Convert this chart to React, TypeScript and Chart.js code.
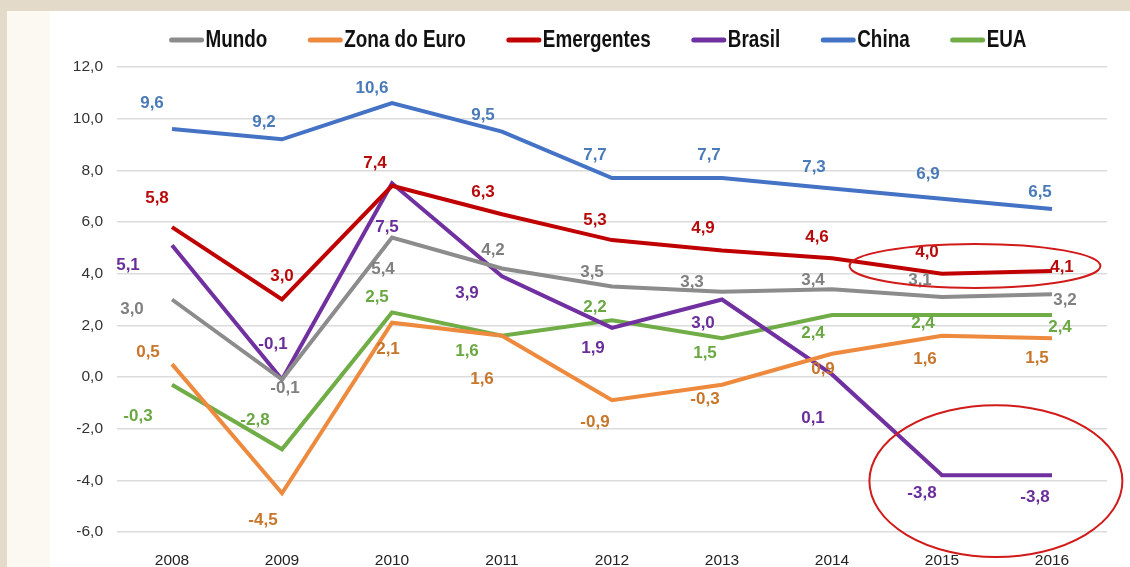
import React, { useEffect, useRef } from "react";
import { Chart, registerables } from "chart.js";

Chart.register(...registerables);

const YEARS = ["2008", "2009", "2010", "2011", "2012", "2013", "2014", "2015", "2016"];
const MUNDO = [3.0, -0.1, 5.4, 4.2, 3.5, 3.3, 3.4, 3.1, 3.2];
const ZONA_EURO = [0.5, -4.5, 2.1, 1.6, -0.9, -0.3, 0.9, 1.6, 1.5];
const EMERGENTES = [5.8, 3.0, 7.4, 6.3, 5.3, 4.9, 4.6, 4.0, 4.1];
const BRASIL = [5.1, -0.1, 7.5, 3.9, 1.9, 3.0, 0.1, -3.8, -3.8];
const CHINA = [9.6, 9.2, 10.6, 9.5, 7.7, 7.7, 7.3, 6.9, 6.5];
const EUA = [-0.3, -2.8, 2.5, 1.6, 2.2, 1.5, 2.4, 2.4, 2.4];
const Y_MIN = -6;
const Y_MAX = 12;
const Y_STEP = 2;

// label placement (dx, dy in px relative to the point) – styling only
const LABEL_OFFSETS: number[][][] = [
  [[-40, 10], [3, 9], [-9, 32], [-9, -18], [-20, -14], [-30, -9], [-19, -9], [-22, -17], [13, 6]],
  [[-24, -12], [-19, 27], [-4, 27], [-20, 44], [-17, 22], [-17, 15], [-9, 16], [-17, 24], [-15, 20]],
  [[-15, -29], [0, -23], [-17, -23], [-19, -22], [-17, -20], [-19, -22], [-15, -21], [-15, -21], [10, -4]],
  [[-44, 20], [-9, -35], [-5, 44], [-35, 17], [-19, 20], [-19, 24], [-19, 44], [-20, 18], [-17, 22]],
  [[-20, -26], [-18, -17], [-20, -15], [-19, -16], [-17, -23], [-13, -23], [-18, -21], [-14, -24], [-12, -17]],
  [[-34, 32], [-27, -29], [-15, -15], [-35, 16], [-17, -13], [-17, 15], [-19, 18], [-19, 8], [8, 12]],
];

const SERIES = [
  { label: "Mundo", data: MUNDO, color: "#8C8C8C", labelColor: "#808080" },
  { label: "Zona do Euro", data: ZONA_EURO, color: "#EE8A3E", labelColor: "#C7762C" },
  { label: "Emergentes", data: EMERGENTES, color: "#C00000", labelColor: "#B80A0A" },
  { label: "Brasil", data: BRASIL, color: "#7030A0", labelColor: "#6A2E9A" },
  { label: "China", data: CHINA, color: "#4472C4", labelColor: "#4A7BB8" },
  { label: "EUA", data: EUA, color: "#70AD47", labelColor: "#6AA843" },
];

// ellipse annotations in data space: [category index center, value center, rx (categories), ry (values)]
const ELLIPSES = [
  [7.3, 4.3, 1.14, 0.85],
  [7.49, -4.03, 1.15, 2.94],
];

const SANS = "'Liberation Sans', Arial, sans-serif";

const fmt = (v: number) => v.toFixed(1).replace(".", ",");

const bgPlugin = {
  id: "bg",
  beforeDraw(chart: any) {
    const { ctx, width, height } = chart;
    ctx.save();
    ctx.fillStyle = "#E4DACA";
    ctx.fillRect(0, 0, width, height);
    ctx.fillStyle = "#FFFFFF";
    ctx.fillRect(7, 11, width - 7, height - 11);
    ctx.fillStyle = "#FCF9F2";
    ctx.fillRect(7, 11, 43, height - 11);
    ctx.restore();
  },
};

const labelsPlugin = {
  id: "valueLabels",
  afterDatasetsDraw(chart: any) {
    const { ctx } = chart;
    ctx.save();
    ctx.font = `bold 17px ${SANS}`;
    ctx.textAlign = "center";
    ctx.textBaseline = "middle";
    chart.data.datasets.forEach((ds: any, di: number) => {
      const meta = chart.getDatasetMeta(di);
      ctx.fillStyle = ds.labelColor;
      meta.data.forEach((pt: any, i: number) => {
        const off = LABEL_OFFSETS[di][i];
        ctx.fillText(fmt(ds.data[i]), pt.x + off[0], pt.y + off[1]);
      });
    });
    ctx.restore();
  },
};

const ellipsePlugin = {
  id: "ellipses",
  afterDraw(chart: any) {
    const { ctx } = chart;
    const xs = chart.scales.x;
    const ys = chart.scales.y;
    const catW = xs.getPixelForValue(1) - xs.getPixelForValue(0);
    const unitH = Math.abs(ys.getPixelForValue(1) - ys.getPixelForValue(0));
    ctx.save();
    ctx.strokeStyle = "#D11A1A";
    ctx.lineWidth = 2;
    ELLIPSES.forEach(([ci, vc, rx, ry]) => {
      ctx.beginPath();
      ctx.ellipse(xs.getPixelForValue(ci), ys.getPixelForValue(vc), rx * catW, ry * unitH, 0, 0, Math.PI * 2);
      ctx.stroke();
    });
    ctx.restore();
  },
};

const legendPlugin = {
  id: "customLegend",
  afterDraw(chart: any) {
    const { ctx } = chart;
    const lineLen = 34;
    const gapLine = 2;
    const gapItem = 41;
    const squeeze = 0.82;
    const y = 40;
    ctx.save();
    ctx.font = `bold 23px ${SANS}`;
    const widths = chart.data.datasets.map(
      (ds: any) => lineLen + gapLine + ctx.measureText(ds.label).width * squeeze
    );
    const total = widths.reduce((a: number, b: number) => a + b, 0) + gapItem * (widths.length - 1);
    let x = 598 - total / 2;
    chart.data.datasets.forEach((ds: any, i: number) => {
      ctx.strokeStyle = ds.borderColor;
      ctx.lineWidth = 5;
      ctx.lineCap = "round";
      ctx.beginPath();
      ctx.moveTo(x + 2, y);
      ctx.lineTo(x + lineLen - 2, y);
      ctx.stroke();
      ctx.save();
      ctx.translate(x + lineLen + gapLine, y + 1);
      ctx.scale(squeeze, 1);
      ctx.fillStyle = "#111111";
      ctx.textAlign = "left";
      ctx.textBaseline = "middle";
      ctx.fillText(ds.label, 0, 0);
      ctx.restore();
      x += widths[i] + gapItem;
    });
    ctx.restore();
  },
};

export default function App() {
  const ref = useRef<HTMLCanvasElement | null>(null);
  useEffect(() => {
    if (!ref.current) return;
    const chart = new Chart(ref.current, {
      type: "line",
      data: {
        labels: YEARS,
        datasets: SERIES.map((s) => ({
          label: s.label,
          data: s.data,
          borderColor: s.color,
          backgroundColor: s.color,
          labelColor: s.labelColor,
          borderWidth: 4,
          pointRadius: 0,
          tension: 0,
          fill: false,
        })) as any,
      },
      options: {
        animation: false,
        responsive: false,
        maintainAspectRatio: false,
        layout: { padding: { left: 57, right: 23, top: 67, bottom: 0 } },
        plugins: {
          legend: { display: false },
          tooltip: { enabled: false },
        },
        scales: {
          x: {
            offset: true,
            grid: { display: false },
            border: { display: false },
            ticks: {
              color: "#222222",
              font: { family: SANS, size: 15.5 },
              padding: 11,
              maxRotation: 0,
            },
            afterFit: (s: any) => {
              s.height = 35;
            },
          },
          y: {
            min: Y_MIN,
            max: Y_MAX,
            grid: { color: "#DCDCDC", lineWidth: 1.5, drawTicks: false },
            border: { display: false },
            ticks: {
              stepSize: Y_STEP,
              color: "#333333",
              font: { family: SANS, size: 15.5 },
              padding: 14,
              callback: (v: any) => fmt(Number(v)),
            },
            afterFit: (s: any) => {
              s.width = 60;
            },
          },
        },
      },
      plugins: [bgPlugin, labelsPlugin, ellipsePlugin, legendPlugin],
    });
    return () => chart.destroy();
  }, []);
  return (
    <div style={{ position: "absolute", left: 0, top: 0, width: 1130, height: 567 }}>
      <canvas ref={ref} width={1130} height={567} style={{ display: "block" }} />
    </div>
  );
}
